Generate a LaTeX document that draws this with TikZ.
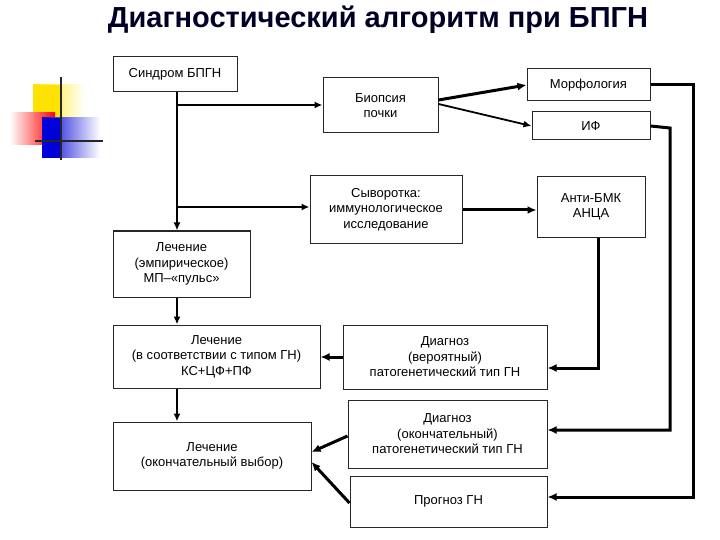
\documentclass[tikz,border=0pt]{standalone}
\usetikzlibrary{arrows.meta}
\usepackage{fontspec}
\setmainfont{Liberation Sans}
\begin{document}
\begin{tikzpicture}[x=1pt,y=-1pt,
  box/.style={draw=black!85,line width=1pt,align=center,inner sep=0pt,font=\fontsize{13}{15.5}\selectfont},
  con/.style={line width=1.8pt,-{Latex[length=8pt,width=7pt]}},
  thick con/.style={line width=3pt,-{Latex[length=9pt,width=8pt]}}]
\useasboundingbox (0,0) rectangle (720,540);
\node[font=\fontsize{29}{32}\selectfont\bfseries,text=black!85!blue] (title) at (378,20) {Диагностический алгоритм при БПГН};
% decoration
\shade[left color=yellow!80!orange,right color=white] (33,85) rectangle (85,135);
\fill[yellow!85!orange] (33,85) rectangle (61,118);
\shade[left color=white,right color=red] (10,113) rectangle (55,145);
\shade[left color=blue!85!black,right color=white] (42,118) rectangle (100,158);
\fill[blue!85!black] (42,118) rectangle (62,158);
\draw[line width=1.5pt,black!85] (61,77) -- (61,160);
\draw[line width=1.5pt,black!85] (35,141) -- (103,141);
% boxes
\newcommand{\bx}[6]{\node[box,minimum width=#4-#2,minimum height=#5-#3] (#1) at ({(#2+#4)/2},{(#3+#5)/2}) {#6};}
\bx{s}{113}{57}{237}{92}{Синдром БПГН}
\bx{b}{323}{78}{438}{133}{Биопсия\\почки}
\bx{m}{527}{69}{650}{101}{Морфология}
\bx{if}{532}{112}{650}{140}{ИФ}
\bx{sv}{310}{176}{462}{243}{Сыворотка:\\иммунологическое\\исследование}
\bx{a}{537}{177}{645}{237}{Анти-БМК\\АНЦА}
\bx{l1}{113}{231}{250}{297}{Лечение\\(эмпирическое)\\МП–«пульс»}
\bx{l2}{113}{325}{320}{388}{Лечение\\(в соответствии с типом ГН)\\КС+ЦФ+ПФ}
\bx{d1}{343}{325}{547}{389}{Диагноз\\(вероятный)\\патогенетический тип ГН}
\bx{l3}{113}{422}{311}{490}{Лечение\\(окончательный выбор)}
\bx{d2}{348}{400}{547}{468}{Диагноз\\(окончательный)\\патогенетический тип ГН}
\bx{p}{350}{476}{547}{527}{Прогноз ГН}
% connectors
\coordinate (j1) at (177,105);
\coordinate (j2) at (177,207);
\draw[con] (s.south -| j1) -- (l1.north -| j1);
\draw[con] (j1) -- (b.west |- j1);
\draw[con] (j2) -- (sv.west |- j2);
\draw[thick con] (b.east |- 0,100) -- (m.west);
\draw[con] (b.east |- 0,104) -- (if.west);
\draw[thick con] (sv.east |- 0,210) -- (a.west |- 0,210);
\draw[con] (l1.south -| j1) -- (l2.north -| j1);
\draw[con] (l2.south -| j1) -- (l3.north -| j1);
\draw[thick con] (m.east) -- (693,85) |- (p.east |- 0,497);
\draw[thick con] (if.east) -- (670,128) |- (d2.east |- 0,430);
\draw[thick con] (a.south -| 598,0) |- (d1.east |- 0,368);
\draw[thick con] (d1.west |- 0,357) -- (l2.east |- 0,357);
\draw[thick con] (d2.west |- 0,436) -- (l3.east |- 0,452);
\draw[thick con] (p.west |- 0,503) -- (l3.east |- 0,462);
\end{tikzpicture}
\end{document}
